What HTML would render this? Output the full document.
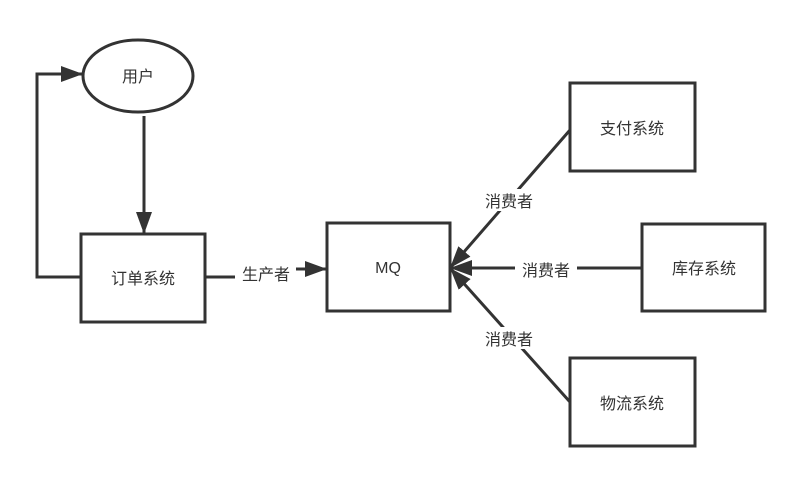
<!DOCTYPE html>
<html><head><meta charset="utf-8"><style>
body{margin:0;background:#fff;width:801px;height:485px;overflow:hidden}
text{font-family:"Liberation Sans","Noto Sans CJK SC",sans-serif;fill:#333;font-size:16px}
</style></head><body>
<svg width="801" height="485" xmlns="http://www.w3.org/2000/svg">
<defs><marker id="a" markerWidth="10" markerHeight="10" refX="9" refY="5" orient="auto" markerUnits="userSpaceOnUse" viewBox="0 0 10 10"><path d="M0,0 L10,5 L0,10 z" fill="#333"/></marker>
<marker id="b" markerWidth="22" markerHeight="16" refX="22" refY="8" orient="auto" markerUnits="userSpaceOnUse"><path d="M0,0 L22,8 L0,16 z" fill="#333"/></marker></defs>
<g stroke="#333" stroke-width="3" fill="none">
<ellipse cx="138" cy="76" rx="55" ry="36" fill="#fff"/>
<rect x="81" y="234" width="124" height="88"/>
<rect x="327" y="223" width="123" height="88"/>
<rect x="570" y="83" width="125" height="88"/>
<rect x="642" y="224" width="123" height="87"/>
<rect x="570" y="358" width="125" height="88"/>
<line x1="144" y1="116" x2="144" y2="234" marker-end="url(#b)"/>
<polyline points="81,277 37,277 37,74 83,74" marker-end="url(#b)"/>
<line x1="205" y1="277" x2="235" y2="277"/>
<line x1="296" y1="269" x2="327" y2="269" marker-end="url(#b)"/>
<line x1="570" y1="130" x2="450" y2="268" marker-end="url(#b)"/>
<line x1="642" y1="268" x2="450" y2="268" marker-end="url(#b)"/>
<line x1="570" y1="402" x2="450" y2="268" marker-end="url(#b)"/>
</g>
<g text-anchor="middle">
<text x="138" y="82">用户</text>
<text x="143" y="284">订单系统</text>
<text x="388" y="273">MQ</text>
<text x="632" y="134">支付系统</text>
<text x="704" y="274">库存系统</text>
<text x="632" y="409">物流系统</text>
<rect x="236" y="262" width="60" height="22" fill="#fff"/>
<text x="266" y="280">生产者</text>
<rect x="478" y="189" width="62" height="22" fill="#fff"/>
<text x="509" y="207">消费者</text>
<rect x="515" y="258" width="62" height="22" fill="#fff"/>
<text x="546" y="276">消费者</text>
<rect x="478" y="327" width="62" height="22" fill="#fff"/>
<text x="509" y="345">消费者</text>
</g>
</svg>
</body></html>
